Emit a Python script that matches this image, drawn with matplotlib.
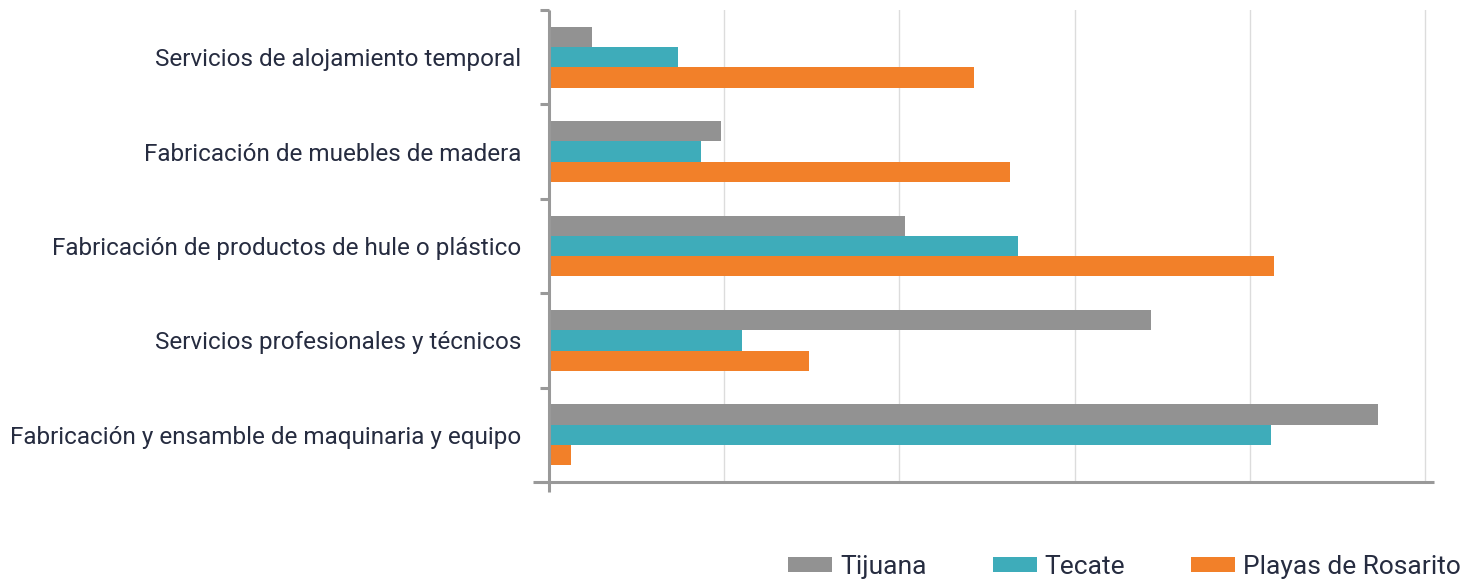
import numpy as np
import matplotlib
matplotlib.use("Agg")
import matplotlib.pyplot as plt

plt.rcParams['font.family'] = ['Roboto', 'DejaVu Sans']

categorias = [
    "Servicios de alojamiento temporal",
    "Fabricación de muebles de madera",
    "Fabricación de productos de hule o plástico",
    "Servicios profesionales y técnicos",
    "Fabricación y ensamble de maquinaria y equipo",
]
series = ["Tijuana", "Tecate", "Playas de Rosarito"]
tijuana = [1.23, 4.91, 10.16, 17.18, 23.66]
tecate = [3.68, 4.34, 13.38, 5.51, 20.61]
rosarito = [12.13, 13.16, 20.69, 7.42, 0.63]
colores = ["#929292", "#3eacba", "#f28029"]

gris = "#999999"
texto = "#262c40"

fig = plt.figure(figsize=(14.74, 5.83), dpi=100)
ax = fig.add_axes([549 / 1474, 1 - 482 / 583, (1434 - 549) / 1474, 472 / 583])

y = np.arange(len(categorias))
h = 0.215
for i, (vals, nombre, c) in enumerate(zip([tijuana, tecate, rosarito], series, colores)):
    ax.barh(y + (i - 1) * h, vals, height=h, color=c, label=nombre, zorder=3)

ax.set_ylim(len(categorias) - 0.5, -0.5)
ax.set_xlim(0, 25.26)
ax.set_xticks([0, 5, 10, 15, 20, 25])
ax.set_xticklabels([])
ax.tick_params(axis='x', length=0)
ax.grid(axis='x', color="#dcdcdc", linewidth=1, zorder=0)

ax.set_yticks(y)
ax.set_yticklabels(categorias, fontsize=17.5, color=texto)
ax.set_yticks(np.arange(-0.5, len(categorias)), minor=True)
ax.tick_params(axis='y', which='major', length=0, pad=20)
ax.tick_params(axis='y', which='minor', length=6.5, width=2.2, color=gris, direction='out')

for s in ax.spines.values():
    s.set_visible(False)
ax.plot([-16 / 885, 1], [0, 0], transform=ax.transAxes, color=gris, lw=2.2,
        clip_on=False, zorder=4, solid_capstyle='butt')
ax.plot([0, 0], [-10 / 472, 1], transform=ax.transAxes, color=gris, lw=2.2,
        clip_on=False, zorder=4, solid_capstyle='butt')

fig.legend(loc='center right', bbox_to_anchor=(1461 / 1474, 1 - 567 / 583), ncol=3,
           frameon=False, fontsize=19, handlelength=1.67, handleheight=0.49,
           handletextpad=0.3, columnspacing=2.5, borderpad=0, borderaxespad=0,
           labelcolor=texto)

fig.savefig("out.png", dpi=100)
